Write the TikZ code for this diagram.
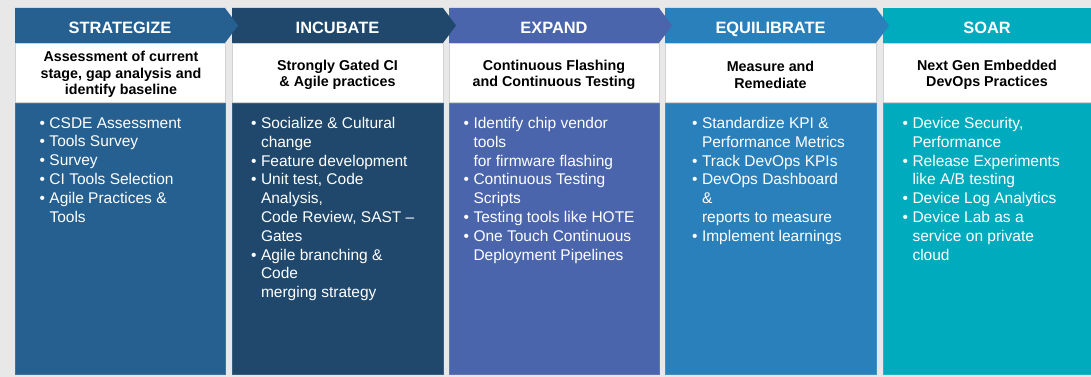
\documentclass[tikz,border=0pt]{standalone}
\usepackage{fontspec}
\setmainfont{Liberation Sans}

\definecolor{pagebg}{HTML}{E8E8E8}
\definecolor{rulegray}{HTML}{D2D2D2}
\definecolor{cStrat}{RGB}{37,96,145}
\definecolor{cIncub}{RGB}{31,72,108}
\definecolor{cExpand}{RGB}{74,101,172}
\definecolor{cEquil}{RGB}{41,128,187}
\definecolor{cSoar}{RGB}{0,171,189}

% bullet with hanging indent, and continuation indent
\newcommand\bl{\makebox[9.8pt][l]{•}}
\newcommand\ind{\hspace*{9.8pt}}

\tikzset{
  headtext/.style={text=white, font=\bfseries\fontsize{16.4}{19}\selectfont, anchor=base, inner sep=0pt},
  subtext/.style={font=\bfseries\fontsize{14.3}{16.6}\selectfont, align=center, inner sep=0pt},
  bodytext/.style={text=white, font=\fontsize{15.5}{18.8}\selectfont, align=left, anchor=north west, inner sep=0pt},
  band/.style={fill=white, draw=rulegray, line width=0.8pt},
  panel/.style={fill=#1, draw=#1!88!white, line width=0.8pt},
}

% chevron header: left, right, colour
\newcommand\chevron[3]{\fill[#3] (#1,8) -- (#2,8) -- (#2+13,25.5) -- (#2,43) -- (#1,43) -- cycle;}
% white band and coloured panel: left, right, colour
\newcommand\stagecard[3]{%
  \draw[band] (#1,43.6) rectangle (#2,102);
  \draw[panel=#3] (#1,103) rectangle (#2,374);}

\begin{document}
\begin{tikzpicture}[x=1pt,y=-1pt]
  \useasboundingbox (0,0) rectangle (1091,377);
  \fill[pagebg] (0,0) rectangle (1091,377);

  % cards
  \stagecard{15}{225}{cStrat}
  \stagecard{232}{443}{cIncub}
  \stagecard{449}{659}{cExpand}
  \stagecard{665}{876}{cEquil}
  \stagecard{883}{1091.5}{cSoar}

  % headers, right to left so each tip lies over the next header
  \fill[cSoar] (883,8) rectangle (1091.5,43);
  \chevron{665}{876}{cEquil}
  \chevron{449}{659}{cExpand}
  \chevron{232}{443}{cIncub}
  \chevron{15}{225}{cStrat}

  % header titles
  \node[headtext] (h1) at (120,33.6) {STRATEGIZE};
  \node[headtext] (h2) at (337.5,33.6) {INCUBATE};
  \node[headtext] (h3) at (554,33.6) {EXPAND};
  \node[headtext] (h4) at (770.5,33.6) {EQUILIBRATE};
  \node[headtext] (h5) at (987,33.6) {SOAR};

  % subtitles
  \node[subtext] (s1) at (121,74.5) {Assessment of current\\stage, gap analysis and\\identify baseline};
  \node[subtext] (s2) at (337.5,75) {Strongly Gated CI\\\& Agile practices};
  \node[subtext] (s3) at (554,75) {Continuous Flashing\\and Continuous Testing};
  \node[subtext] (s4) at (770.5,75) {Measure and\\Remediate};
  \node[subtext] (s5) at (987,75) {Next Gen Embedded\\DevOps Practices};

  % bullet lists
  \node[bodytext] (b1) at (39.5,117) {\bl CSDE Assessment\\\bl Tools Survey\\\bl Survey\\\bl CI Tools Selection\\\bl Agile Practices \&\\\ind Tools};
  \node[bodytext] (b2) at (251,117) {\bl Socialize \& Cultural\\\ind change\\\bl Feature development\\\bl Unit test, Code\\\ind Analysis,\\\ind Code Review, SAST --\\\ind Gates\\\bl Agile branching \&\\\ind Code\\\ind merging strategy};
  \node[bodytext] (b3) at (463.5,117) {\bl Identify chip vendor\\\ind tools\\\ind for firmware flashing\\\bl Continuous Testing\\\ind Scripts\\\bl Testing tools like HOTE\\\bl One Touch Continuous\\\ind Deployment Pipelines};
  \node[bodytext] (b4) at (692,117) {\bl Standardize KPI \&\\\ind Performance Metrics\\\bl Track DevOps KPIs\\\bl DevOps Dashboard\\\ind \&\\\ind reports to measure\\\bl Implement learnings};
  \node[bodytext] (b5) at (902.5,117) {\bl Device Security,\\\ind Performance\\\bl Release Experiments\\\ind like A/B testing\\\bl Device Log Analytics\\\bl Device Lab as a\\\ind service on private\\\ind cloud};
\end{tikzpicture}
\end{document}
